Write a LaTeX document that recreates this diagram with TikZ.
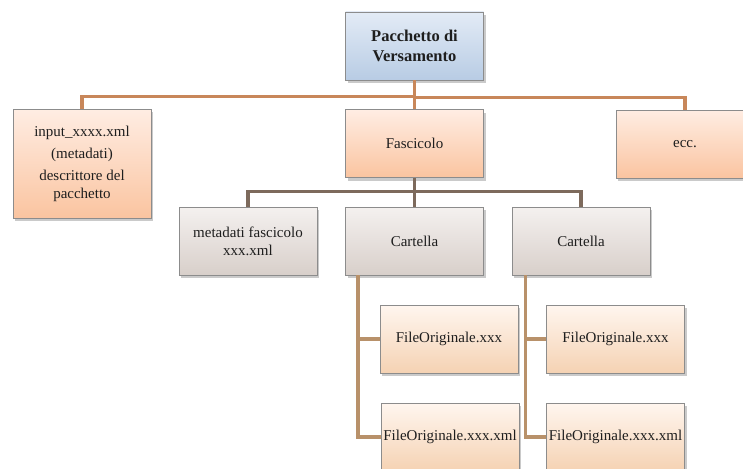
\documentclass[tikz,border=0pt]{standalone}
\usepackage{tikz}
\usepackage{fontspec}
\setmainfont{Liberation Serif}
\usetikzlibrary{shadows}

\definecolor{bordergray}{HTML}{8C8C8C}
\definecolor{textgray}{HTML}{1E1E1E}
\definecolor{blueA}{HTML}{E3EBF6}
\definecolor{blueB}{HTML}{B8CCE4}
\definecolor{peachA}{HTML}{FFEDE3}
\definecolor{peachB}{HTML}{FAC4A0}
\definecolor{greyA}{HTML}{F4F1EF}
\definecolor{greyB}{HTML}{D8CFCA}
\definecolor{fileA}{HTML}{FFF6EF}
\definecolor{fileB}{HTML}{F5D2B3}
\definecolor{lineA}{HTML}{C8875A}
\definecolor{lineB}{HTML}{7D6A5C}
\definecolor{lineC}{HTML}{B8916A}

\begin{document}
\begin{tikzpicture}[x=1pt, y=-1pt,
    box/.style={draw=bordergray, line width=0.8pt, rectangle, align=center,
        minimum width=138pt, minimum height=68pt, inner sep=2pt,
        text=textgray, font=\fontsize{15}{18}\selectfont,
        drop shadow={shadow xshift=2pt, shadow yshift=-3pt, opacity=0.35, fill=black!60}},
    bluebox/.style={box, top color=blueA, bottom color=blueB, font=\fontsize{16.5}{20}\selectfont\bfseries},
    peachbox/.style={box, top color=peachA, bottom color=peachB},
    greybox/.style={box, top color=greyA, bottom color=greyB},
    filebox/.style={box, top color=fileA, bottom color=fileB},
    topline/.style={draw=lineA, line width=3.5pt},
    midline/.style={draw=lineB, line width=3.5pt},
    lowline/.style={draw=lineC, line width=3.5pt}]
    \useasboundingbox (0,0) rectangle (743,468);

    \node[bluebox] (a) at (414.5, 46) {Pacchetto di\\Versamento};
    \node[peachbox, minimum height=109pt] (b) at (82, 163.5) {input\_xxxx.xml\\[4pt](metadati)\\[4pt]descrittore del\\pacchetto};
    \node[peachbox] (c) at (414.5, 143.5) {Fascicolo};
    \node[peachbox] (d) at (685, 144) {ecc.};
    \node[greybox] (e) at (248, 241) {metadati fascicolo\\xxx.xml};
    \node[greybox] (f) at (414.5, 241) {Cartella};
    \node[greybox] (g) at (581, 241) {Cartella};
    \node[filebox] (h) at (449, 339) {FileOriginale.xxx};
    \node[filebox] (i) at (450, 437) {FileOriginale.xxx.xml};
    \node[filebox] (j) at (615.5, 339) {FileOriginale.xxx};
    \node[filebox] (k) at (615.5, 437) {FileOriginale.xxx.xml};

    \draw[topline] (b.north) -- ++(0,-12) -| (a.south);
    \draw[topline] (c.north) -- (a.south);
    \draw[topline] (d.north) -- ++(0,-12) -| (a.south);
    \draw[midline] (e.north) -- ++(0,-15) -| (c.south);
    \draw[midline] (f.north) -- (c.south);
    \draw[midline] (g.north) -- ++(0,-15) -| (c.south);
    \draw[lowline] (f.south west) ++(13,0) |- (h.west);
    \draw[lowline] (f.south west) ++(13,0) |- (i.west);
    \draw[lowline] (g.south west) ++(14,0) |- (j.west);
    \draw[lowline] (g.south west) ++(14,0) |- (k.west);

\end{tikzpicture}
\end{document}
